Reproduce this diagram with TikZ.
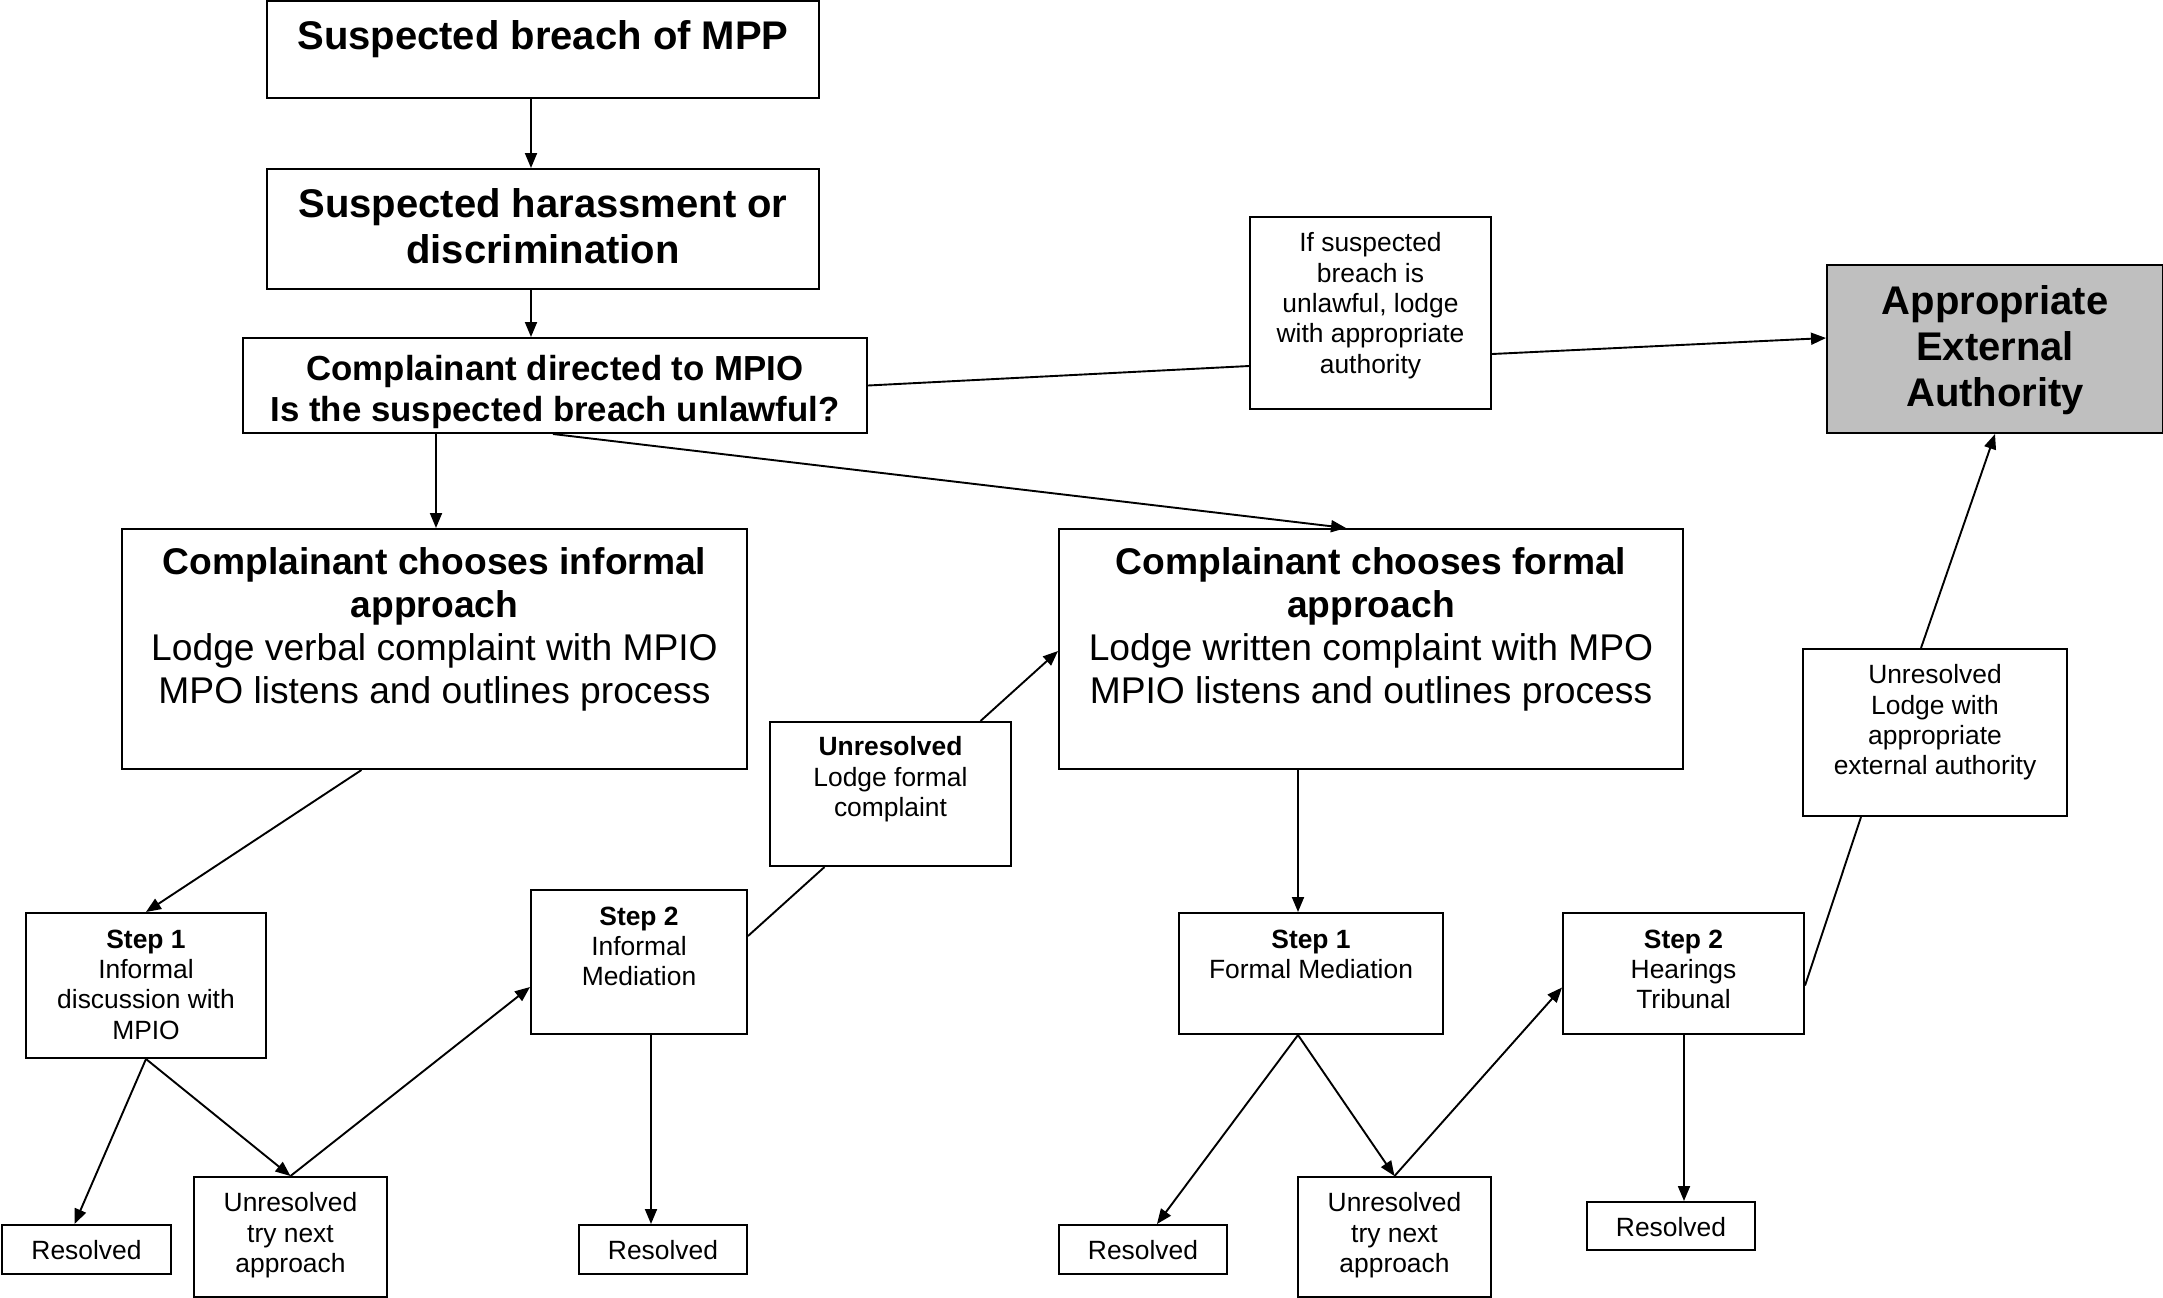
\documentclass[tikz,border=0pt]{standalone}
\usepackage{fontspec}
\setmainfont{Liberation Sans}
\usetikzlibrary{calc,arrows.meta}
\newcommand{\boxtext}[4][8.3pt]{\parbox[c][#3][t]{#2}{\centering\vspace*{#1}#4}}

\begin{document}
\begin{tikzpicture}[x=0.5pt,y=-0.5pt,
  box/.style={draw, line width=1pt, inner sep=0pt, anchor=north west, font=\fontsize{13.2}{15.2}\selectfont},
  bigbox/.style={box, font=\fontsize{18.6}{21.4}\selectfont},
  link/.style={line width=0.95pt},
  arr/.style={link, -{Triangle[length=7.5pt,width=6pt]}}]
			%%%%% START %%%%%
			\useasboundingbox (0,0) rectangle (2163,1297);
			
			% top of the chart
			\node[box, font=\fontsize{20}{23}\selectfont\bfseries] (b1) at (266,0) {\boxtext[10pt]{276pt}{48.5pt}{Suspected breach of MPP}};
			\node[box, font=\fontsize{20}{23}\selectfont\bfseries] (b2) at (266,168) {\boxtext[10pt]{276pt}{60pt}{Suspected harassment or\\discrimination}};
			\node[box, font=\fontsize{17.4}{20.7}\selectfont\bfseries] (b3) at (242,337) {\boxtext[8.5pt]{312pt}{47.5pt}{Complainant directed to MPIO\\Is the suspected breach unlawful?}};
			\node[box, fill=white] (note) at (1249,216) {\boxtext[7.8pt]{120.5pt}{96pt}{If suspected\\breach is\\unlawful, lodge\\with appropriate\\authority}};
			\node[box, fill=black!25, font=\fontsize{20}{23}\selectfont\bfseries] (ext) at (1826,264) {\boxtext[10.3pt]{168pt}{84pt}{Appropriate\\External\\Authority}};
			
			% the two approaches
			\node[bigbox] (inf) at (121,528) {\boxtext[9.5pt]{312.5pt}{120pt}{{\bfseries Complainant chooses informal\\approach}\\Lodge verbal complaint with MPIO\\MPO listens and outlines process}};
			\node[bigbox] (form) at (1058,528) {\boxtext[9.5pt]{312pt}{120pt}{{\bfseries Complainant chooses formal\\approach}\\Lodge written complaint with MPO\\MPIO listens and outlines process}};
			\node[box] (unf) at (769,721) {\boxtext[7.3pt]{120.5pt}{72pt}{\textbf{Unresolved}\\Lodge formal\\complaint}};
			\node[box] (unx) at (1802,648) {\boxtext[7.8pt]{132pt}{83.5pt}{Unresolved\\Lodge with\\appropriate\\external authority}};
			
			% informal steps
			\node[box] (s1i) at (25,912) {\boxtext{120pt}{72.5pt}{\textbf{Step 1}\\Informal\\discussion with\\MPIO}};
			\node[box] (s2i) at (530,889) {\boxtext{108pt}{72pt}{\textbf{Step 2}\\Informal\\Mediation}};
			\node[box] (r1) at (1,1224) {\boxtext[7.6pt]{84.5pt}{24.5pt}{Resolved}};
			\node[box] (u1) at (193,1176) {\boxtext[7.8pt]{96.5pt}{60pt}{Unresolved\\try next\\approach}};
			\node[box] (r2) at (578,1224) {\boxtext[7.6pt]{84pt}{24.5pt}{Resolved}};
			
			% formal steps
			\node[box] (s1f) at (1178,912) {\boxtext{132pt}{60.5pt}{\textbf{Step 1}\\Formal Mediation}};
			\node[box] (s2f) at (1562,912) {\boxtext{120.5pt}{60.5pt}{\textbf{Step 2}\\Hearings\\Tribunal}};
			\node[box] (r3) at (1058,1224) {\boxtext[7.6pt]{84pt}{24.5pt}{Resolved}};
			\node[box] (u2) at (1297,1176) {\boxtext[7.8pt]{96.5pt}{60pt}{Unresolved\\try next\\approach}};
			\node[box] (r4) at (1586,1201) {\boxtext[7.6pt]{84pt}{24pt}{Resolved}};
			
			% connectors
			\draw[arr] ($(b1.south)+(-12,0)$) -- ($(b2.north)+(-12,0)$);
			\draw[arr] ($(b2.south)+(-12,0)$) coordinate (p) -- (p |- b3.north);
			\draw[arr] ($(inf.north)+(1.5,0)$) coordinate (t) (b3.south -| t) -- (t);
			\draw[arr] ($(b3.south)+(-2,0)$) -- ($(form.north)+(-25,0)$);
			\draw[link] (b3.east) -- ($(note.west)+(0,53)$);
			\draw[arr] ($(note.east)+(0,41)$) -- ($(ext.west)+(0,-11)$);
			
			\draw[arr] ($(inf.south)+(-73,0)$) -- (s1i.north);
			\draw[arr] (s1i.south) -- ($(r1.north)+(-12,0)$);
			\draw[arr] (s1i.south) -- (u1.north);
			\draw[arr] (u1.north) -- ($(s2i.west)+(0,25)$);
			\draw[arr] ($(s2i.south)+(12,0)$) -- ($(r2.north)+(-12,0)$);
			\draw[link] ($(s2i.east)+(0,-26)$) -- ($(unf.south)+(-66,0)$);
			\draw[arr] ($(unf.north)+(90,0)$) -- ($(form.west)+(0,2)$);
			
			\draw[arr] ($(s1f.north)+(-13,0)$) coordinate (q) (form.south -| q) -- (q);
			\draw[arr] ($(s1f.south)+(-13,0)$) -- ($(r3.north)+(14,0)$);
			\draw[arr] ($(s1f.south)+(-13,0)$) -- (u2.north);
			\draw[arr] (u2.north) -- ($(s2f.west)+(0,14)$);
			\draw[arr] ($(s2f.south)+(0.5,0)$) coordinate (s) -- (s |- r4.north);
			\draw[link] ($(s2f.east)+(0,12)$) -- ($(unx.south)+(-74,0)$);
			\draw[arr] ($(unx.north)+(-14,0)$) -- (ext.south);
			%%%%% END %%%%%
\end{tikzpicture}
\end{document}
